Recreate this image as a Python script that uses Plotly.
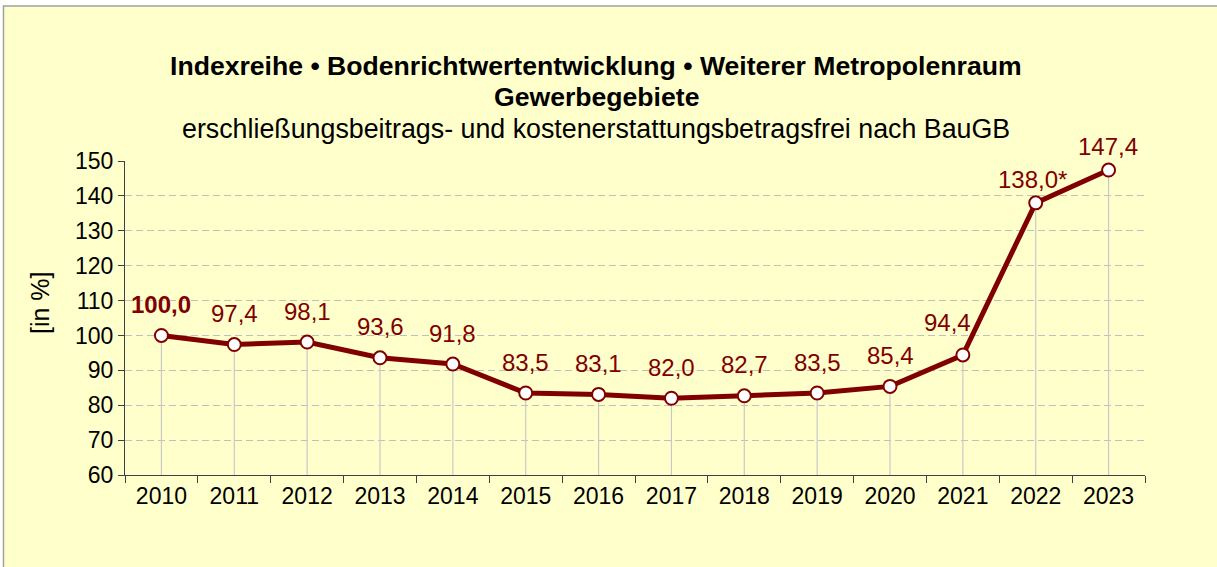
import plotly.graph_objects as go

# ---- data ----
years = ["2010", "2011", "2012", "2013", "2014", "2015", "2016",
         "2017", "2018", "2019", "2020", "2021", "2022", "2023"]
index_values = [100.0, 97.4, 98.1, 93.6, 91.8, 83.5, 83.1,
                82.0, 82.7, 83.5, 85.4, 94.4, 138.0, 147.4]
label_suffix = ["", "", "", "", "", "", "", "", "", "", "", "", "*", ""]
y_ticks = [60, 70, 80, 90, 100, 110, 120, 130, 140, 150]

title_line1 = "Indexreihe • Bodenrichtwertentwicklung • Weiterer Metropolenraum"
title_line2 = "Gewerbegebiete"
title_line3 = "erschließungsbeitrags- und kostenerstattungsbetragsfrei nach BauGB"
y_title = "[in %]"

# ---- label placement (styling, pixels) ----
label_xshift = [0, 0, 0, 0, 0, 0, 0, 0, 0, 0, 0, -15, -3, -1]
label_yshift = [31, 31, 31, 31, 31, 31, 31, 31, 31, 31, 31, 32, 23, 24]
label_bold = [True] + [False] * 13

DARK_RED = "#800000"
FONT = "Liberation Sans, Arial, sans-serif"
W, H = 1217, 567
L, R, T, B = 125, 72, 161, 92
PW, PH = W - L - R, H - T - B

def px_x(px):
    return (px - L) / PW

def px_y(py):
    return (H - B - py) / PH

y_min = y_ticks[0]
n = len(years)

fig = go.Figure()

# drop lines
fig.add_trace(go.Scatter(
    x=years, y=index_values, mode="markers",
    marker=dict(size=1, color="rgba(0,0,0,0)"),
    error_y=dict(type="data", symmetric=False,
                 array=[0] * n,
                 arrayminus=[v - y_min for v in index_values],
                 color="#C8C8C8", thickness=1.2, width=0),
    hoverinfo="skip", showlegend=False,
))

# main line
fig.add_trace(go.Scatter(
    x=years, y=index_values, mode="lines+markers",
    line=dict(color=DARK_RED, width=5),
    marker=dict(size=13, color="white", line=dict(color=DARK_RED, width=2)),
    showlegend=False,
))

annotations = []
for i, (v, suf, xs, ys, bold) in enumerate(zip(index_values, label_suffix,
                                              label_xshift, label_yshift, label_bold)):
    txt = f"{v:.1f}".replace(".", ",") + suf
    if bold:
        txt = f"<b>{txt}</b>"
    annotations.append(dict(
        x=i, y=v, xref="x", yref="y", text=txt, showarrow=False,
        xanchor="center", yanchor="middle", xshift=xs, yshift=ys,
        font=dict(family=FONT, size=24, color=DARK_RED),
    ))

annotations += [
    dict(x=px_x(596), y=px_y(66), xref="paper", yref="paper",
         text=f"<b>{title_line1}</b>", showarrow=False,
         xanchor="center", yanchor="middle",
         font=dict(family=FONT, size=26.6, color="black")),
    dict(x=px_x(596), y=px_y(97), xref="paper", yref="paper",
         text=f"<b>{title_line2}</b>", showarrow=False,
         xanchor="center", yanchor="middle",
         font=dict(family=FONT, size=26.6, color="black")),
    dict(x=px_x(596), y=px_y(129), xref="paper", yref="paper",
         text=title_line3, showarrow=False,
         xanchor="center", yanchor="middle",
         font=dict(family=FONT, size=26.8, color="black")),
    dict(x=px_x(40), y=px_y(303), xref="paper", yref="paper",
         text=y_title, showarrow=False, textangle=-90,
         xanchor="center", yanchor="middle",
         font=dict(family=FONT, size=25, color="black")),
]

fig.update_layout(
    width=W, height=H,
    margin=dict(l=L, r=R, t=T, b=B, pad=0),
    paper_bgcolor="white",
    plot_bgcolor="rgba(0,0,0,0)",
    font=dict(family=FONT, size=23, color="black"),
    annotations=annotations,
    shapes=[dict(type="rect", xref="paper", yref="paper", layer="below",
                 x0=px_x(3.5), x1=px_x(1240), y0=px_y(590), y1=px_y(6),
                 fillcolor="#FFFFCC", line=dict(color="#A0A0A0", width=1.5))],
    xaxis=dict(type="category", range=[-0.5, n - 0.5], autorange=False,
               tickson="boundaries", ticks="outside",
               ticklen=7, tickcolor="#404040", showline=True,
               linecolor="#404040", linewidth=1.2, showgrid=False,
               tickangle=0,
               tickfont=dict(family=FONT, size=23, color="black")),
    yaxis=dict(range=[y_ticks[0], y_ticks[-1]], tickvals=y_ticks,
               ticks="outside", ticklen=6, tickcolor="#404040",
               showline=True, linecolor="#404040", linewidth=1.2,
               showgrid=True, gridcolor="#C0C0C0", griddash="7px,4px",
               gridwidth=1, zeroline=False,
               tickfont=dict(family=FONT, size=23, color="black")),
)

fig.write_html("out.html", config={"displayModeBar": False},
               post_script="document.body.style.margin='0';")
